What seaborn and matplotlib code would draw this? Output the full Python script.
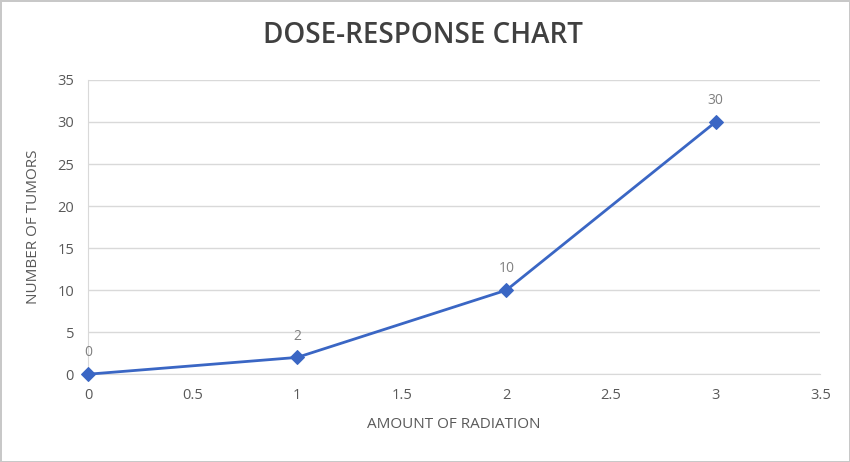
import matplotlib
matplotlib.use('Agg')
import matplotlib.pyplot as plt
import seaborn as sns
import pandas as pd

# Chart data
radiation = [0, 1, 2, 3]
tumors = [0, 2, 10, 30]

df = pd.DataFrame({'radiation': radiation, 'tumors': tumors})

sns.set_style('white')
plt.rcParams['font.family'] = ['Open Sans', 'DejaVu Sans']

fig = plt.figure(figsize=(8.5, 4.62), dpi=100)
fig.patch.set_edgecolor('#c8c8c8')
fig.patch.set_linewidth(2)
ax = fig.add_axes([0.1035, 0.19, 0.8615, 0.637])

sns.lineplot(data=df, x='radiation', y='tumors', ax=ax, color='#3a66c4',
             linewidth=2, marker='D', markersize=7, markeredgecolor='#3a66c4',
             clip_on=False, zorder=5)

# Data labels
for x, y in zip(radiation, tumors):
    ax.annotate(str(y), (x, y), xytext=(0, 10), textcoords='offset points',
                ha='center', va='bottom', fontsize=10, color='#808080')

ax.set_xlim(0, 3.5)
ax.set_ylim(0, 35)
ax.set_xticks([0, 0.5, 1, 1.5, 2, 2.5, 3, 3.5])
ax.set_xticklabels(['0', '0.5', '1', '1.5', '2', '2.5', '3', '3.5'])
ax.set_yticks(range(0, 36, 5))
ax.tick_params(axis='both', length=0, labelsize=10.5, labelcolor='#595959', pad=10)

ax.grid(axis='y', color='#d9d9d9', linewidth=1)
ax.grid(axis='x', visible=False)
for side in ['top', 'right']:
    ax.spines[side].set_visible(False)
ax.spines['left'].set_color('#d9d9d9')
ax.spines['bottom'].set_color('#d9d9d9')

ax.set_xlabel('AMOUNT OF RADIATION', fontsize=11, color='#595959', labelpad=10)
ax.set_ylabel('NUMBER OF TUMORS', fontsize=11, color='#595959', labelpad=12)

fig.suptitle('DOSE-RESPONSE CHART', x=0.497, y=0.955, fontsize=20,
             fontweight='semibold', color='#404040')

fig.savefig('out.png', dpi=100)
